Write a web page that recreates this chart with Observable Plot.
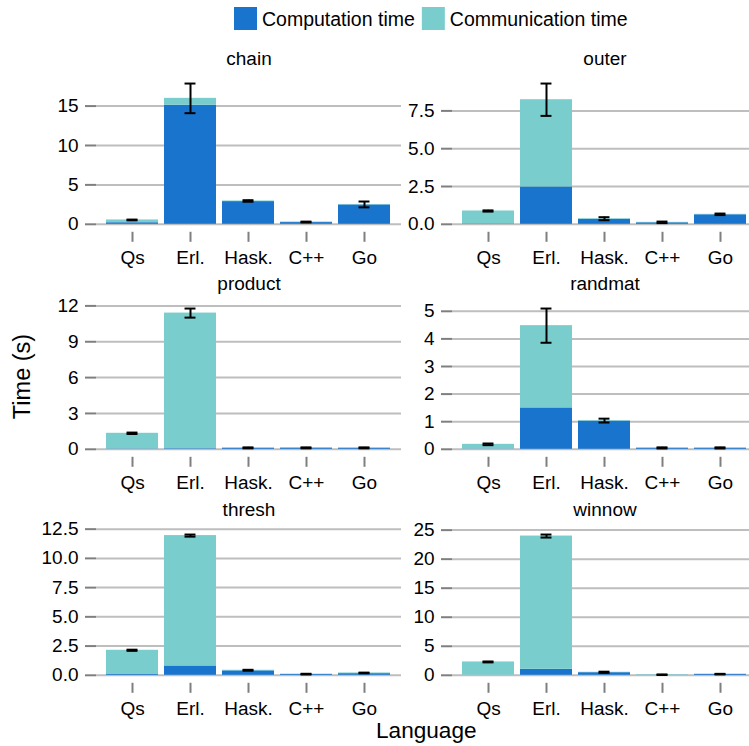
<!DOCTYPE html>
<html><head><meta charset="utf-8">
<script src="https://cdn.jsdelivr.net/npm/d3@7"></script>
<script src="https://cdn.jsdelivr.net/npm/@observablehq/plot@0.6"></script>
<style>
html,body{margin:0;padding:0;background:#fff;overflow:hidden;}
#root{position:relative;width:749px;height:746px;overflow:hidden;}
#root svg{position:absolute;}
</style></head><body><div id="root"></div>
<script>
const languages = ["Qs", "Erl.", "Hask.", "C++", "Go"];
const benchmarks = ["chain", "outer", "product", "randmat", "thresh", "winnow"];
const seriesNames = ["Computation time", "Communication time"];
const seriesColors = ["#1874CD", "#79CDCD"];
// rows follow benchmarks, columns follow languages
const computationTime = [
  [0.20, 15.10, 2.88, 0.22, 2.46],
  [0.03, 2.47, 0.33, 0.10, 0.63],
  [0.03, 0.05, 0.09, 0.10, 0.09],
  [0.01, 1.50, 1.02, 0.04, 0.04],
  [0.07, 0.80, 0.38, 0.07, 0.14],
  [0.02, 1.03, 0.45, 0.02, 0.15]
];
const communicationTime = [
  [0.35, 0.88, 0.08, 0.07, 0.06],
  [0.85, 5.77, 0.04, 0.03, 0.03],
  [1.31, 11.35, 0.03, 0.02, 0.03],
  [0.17, 2.98, 0.02, 0.01, 0.01],
  [2.07, 11.15, 0.05, 0.03, 0.06],
  [2.28, 22.95, 0.07, 0.08, 0.05]
];
const errorHalfWidth = [
  [0.05, 1.88, 0.10, 0.05, 0.37],
  [0.04, 1.07, 0.10, 0.05, 0.05],
  [0.06, 0.38, 0.04, 0.04, 0.04],
  [0.03, 0.62, 0.07, 0.02, 0.02],
  [0.05, 0.09, 0.04, 0.03, 0.03],
  [0.08, 0.26, 0.10, 0.05, 0.05]
];
const yTicks = [
  [0, 5, 10, 15],
  [0, 2.5, 5, 7.5],
  [0, 3, 6, 9, 12],
  [0, 1, 2, 3, 4, 5],
  [0, 2.5, 5, 7.5, 10, 12.5],
  [0, 5, 10, 15, 20, 25]
];
const yTickDecimals = [0, 1, 0, 0, 1, 0];
const yLabel = "Time (s)";
const xLabel = "Language";

const root = document.getElementById("root");
const FONT = '"Liberation Sans", Arial, sans-serif';

// overlay: legend + axis titles
const overlay = d3.select(root).append("svg")
  .attr("width", 749).attr("height", 746)
  .style("left", "0px").style("top", "0px")
  .attr("font-family", FONT);
let lx = 234;
seriesNames.forEach((s, k) => {
  overlay.append("rect").attr("x", lx).attr("y", 7).attr("width", 23).attr("height", 23).attr("fill", seriesColors[k]);
  const t = overlay.append("text").attr("x", lx + 28).attr("y", 25.5).attr("font-size", 19.5).text(s);
  lx += 28 + t.node().getComputedTextLength() + 7;
});
overlay.append("text").attr("transform", "translate(30,376.5) rotate(-90)")
  .attr("text-anchor", "middle").attr("font-size", 23.5).text(yLabel);
overlay.append("text").attr("x", 426.3).attr("y", 738.3)
  .attr("text-anchor", "middle").attr("font-size", 22.6).text(xLabel);

const plotLeft = [96, 452];
const plotTop = [75.5, 301.2, 526.7];
const plotW = 305, plotH = 147.8, mTop = 40, mBottom = 50, mLeft = 96;
const step = plotW / 5.2;
const capInset = (0.9 * step - 0.2 * step) / 2;

benchmarks.forEach((name, i) => {
  const bars = [];
  languages.forEach((lang, j) => {
    bars.push({lang, series: seriesNames[0], value: computationTime[i][j]});
    bars.push({lang, series: seriesNames[1], value: communicationTime[i][j]});
  });
  const errs = languages.map((lang, j) => {
    const t = computationTime[i][j] + communicationTime[i][j];
    return {lang, lo: t - errorHalfWidth[i][j], hi: t + errorHalfWidth[i][j]};
  });
  const ymax = d3.max(errs, d => d.hi) * 1.05;
  const fmt = d3.format("." + yTickDecimals[i] + "f");
  const svg = Plot.plot({
    width: mLeft + plotW, height: mTop + plotH + mBottom,
    marginLeft: mLeft, marginRight: 0, marginTop: mTop, marginBottom: mBottom,
    style: {fontFamily: FONT, fontSize: "19px", background: "transparent", overflow: "visible"},
    x: {domain: languages, paddingInner: 0.1, paddingOuter: 0.15},
    y: {domain: [0, ymax]},
    color: {domain: seriesNames, range: seriesColors},
    marks: [
      Plot.gridY({ticks: yTicks[i], stroke: "#bebebe", strokeOpacity: 1, strokeWidth: 2}),
      Plot.barY(bars, {x: "lang", y: "value", fill: "series", order: seriesNames}),
      Plot.ruleX(errs, {x: "lang", y1: "lo", y2: "hi", stroke: "black", strokeWidth: 2}),
      Plot.tickY(errs, {x: "lang", y: "lo", stroke: "black", strokeWidth: 2, insetLeft: capInset, insetRight: capInset}),
      Plot.tickY(errs, {x: "lang", y: "hi", stroke: "black", strokeWidth: 2, insetLeft: capInset, insetRight: capInset}),
      Plot.axisY({ticks: yTicks[i], tickFormat: fmt, tickSize: 11, tickPadding: 7, stroke: "#7f7f7f", strokeWidth: 2, fill: "black", label: null}),
      Plot.axisX({tickSize: 10, tickPadding: 8, dy: 8, stroke: "#7f7f7f", strokeWidth: 2, fill: "black", label: null}),
      Plot.text([name], {frameAnchor: "top", dy: -11, lineAnchor: "bottom", fontSize: 19, fill: "black"})
    ]
  });
  svg.style.left = (plotLeft[i % 2] - mLeft) + "px";
  svg.style.top = (plotTop[Math.floor(i / 2)] - mTop) + "px";
  root.appendChild(svg);
});
</script>
</body></html>
